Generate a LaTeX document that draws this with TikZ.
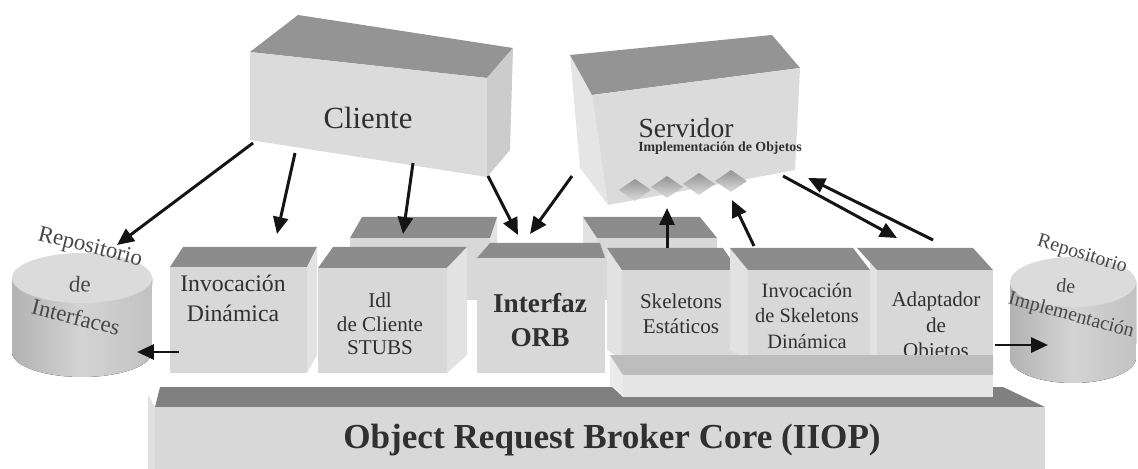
\documentclass[tikz,border=0pt]{standalone}
\usepackage{fontspec}
\setmainfont{Liberation Serif}
\usetikzlibrary{arrows.meta}
\definecolor{topgray}{RGB}{140,140,140}
\definecolor{frontgray}{RGB}{216,216,216}
\definecolor{sidegray}{RGB}{226,226,226}
\definecolor{inkgray}{RGB}{48,48,48}
\tikzset{
  topface/.style={fill=topgray},
  frontface/.style={fill=frontgray},
  sideface/.style={fill=sidegray},
  lbl/.style={text=inkgray, align=center, inner sep=0pt},
  replbl/.style={lbl, text=black!72},
  arr/.style={draw=black!92, line width=1.7pt, -{Triangle[length=0.34cm,width=0.3cm]}},
  cylbody/.style={left color=black!30, right color=black!24, middle color=black!17},
  cyltop/.style={fill=black!14},
  knob/.style={top color=black!42, bottom color=black!14},
}
\begin{document}
\begin{tikzpicture}[x=0.02cm,y=-0.02cm]
\useasboundingbox (0,0) rectangle (1138,469);

% ---- ORB core base slab ----
\fill[black!12] (148,395) -- (155,407) -- (155,469) -- (148,469) -- cycle;
\fill[fill=black!50] (160,387) -- (1003,387) -- (1045,407) -- (155,407) -- cycle;
\fill[frontgray] (155,407) -- (1045,407) -- (1045,469) -- (155,469) -- cycle;
\node[lbl, font=\bfseries\fontsize{20}{22}\selectfont] (core) at (612,440) {Object Request Broker Core (IIOP)};

% ---- back row boxes ----
\fill[frontgray] (350,238) -- (490,238) -- (490,300) -- (350,300) -- cycle;
\fill[sideface] (490,238) -- (497,217) -- (497,290) -- (490,300) -- cycle;
\fill[topface] (362,217) -- (497,217) -- (490,238) -- (350,238) -- cycle;

\fill[sideface] (583,217) -- (597,238) -- (597,300) -- (583,290) -- cycle;
\fill[frontgray] (597,238) -- (717,238) -- (717,300) -- (597,300) -- cycle;
\fill[topface] (583,217) -- (700,217) -- (717,238) -- (597,238) -- cycle;

% ---- client-side boxes ----
\fill[topface] (183,247) -- (317,247) -- (307,267) -- (170,267) -- cycle;
\fill[frontgray] (170,267) -- (307,267) -- (307,373) -- (170,373) -- cycle;
\fill[sideface] (307,267) -- (317,247) -- (317,355) -- (307,373) -- cycle;
\node[lbl, font=\fontsize{13.5}{17}\selectfont] (invdin) at (233,298) {Invocación\\Dinámica};

\fill[topface] (333,247) -- (467,247) -- (447,268) -- (318,268) -- cycle;
\fill[frontgray] (318,268) -- (447,268) -- (447,373) -- (318,373) -- cycle;
\fill[sideface] (447,268) -- (467,247) -- (467,355) -- (447,373) -- cycle;
\node[lbl, font=\fontsize{12}{13.4}\selectfont] (stubs) at (380,324) {Idl\\de Cliente\\STUBS};

\fill[topface] (490,243) -- (600,243) -- (605,258) -- (477,258) -- cycle;
\fill[frontgray] (477,258) -- (605,258) -- (605,373) -- (477,373) -- cycle;
\node[lbl, font=\bfseries\fontsize{15.5}{19}\selectfont] (orbif) at (540,320) {Interfaz\\ORB};

% ---- server-side boxes ----
\fill[sideface] (607,248) -- (622,270) -- (622,360) -- (607,350) -- cycle;
\fill[topface] (607,248) -- (723,248) -- (738,270) -- (622,270) -- cycle;
\fill[frontgray] (622,270) -- (738,270) -- (738,360) -- (622,360) -- cycle;
\node[lbl, font=\fontsize{12}{14.2}\selectfont] (skest) at (681,314) {Skeletons\\Estáticos};

\fill[sideface] (730,248) -- (748,270) -- (748,360) -- (730,350) -- cycle;
\fill[topface] (730,248) -- (853,248) -- (870,270) -- (748,270) -- cycle;
\fill[frontgray] (748,270) -- (870,270) -- (870,360) -- (748,360) -- cycle;

\fill[sideface] (857,248) -- (877,270) -- (877,393) -- (870,393) -- (870,262) -- cycle;
\fill[topface] (857,248) -- (973,248) -- (993,270) -- (877,270) -- cycle;
\fill[frontgray] (877,270) -- (993,270) -- (993,393) -- (877,393) -- cycle;
\node[lbl, font=\fontsize{11.6}{14.7}\selectfont] (skdin) at (807,316) {Invocación\\de Skeletons\\Dinámica};
\node[lbl, font=\fontsize{12}{14.5}\selectfont] (adapt) at (936,327) {Adaptador\\de\\Objetos};

% platform under the server-side boxes
\fill[white!92!black] (610,355) -- (623,375) -- (623,397) -- (610,385) -- cycle;
\fill[black!26] (610,355) -- (993,355) -- (993,375) -- (623,375) -- cycle;
\fill[black!10] (623,375) -- (993,375) -- (993,397) -- (623,397) -- cycle;

% ---- repositories ----
\fill[cylbody] (12,278) -- (12,352) arc[start angle=180,end angle=360,x radius=1.4cm,y radius=0.5cm] -- (152,278) -- cycle;
\fill[cyltop] (82,278) ellipse [x radius=1.4cm, y radius=0.5cm];
\node[replbl, font=\fontsize{13}{15}\selectfont, rotate=-14] (repi1) at (90,248) {Repositorio};
\node[replbl, font=\fontsize{13}{15}\selectfont, rotate=-4] (repi2) at (80,284) {de};
\node[replbl, font=\fontsize{13}{15}\selectfont, rotate=-14] (repi3) at (76,317) {Interfaces};

\fill[cylbody] (1010,282) -- (1010,358) arc[start angle=180,end angle=360,x radius=1.26cm,y radius=0.5cm] -- (1136,282) -- cycle;
\fill[cyltop] (1073,282) ellipse [x radius=1.26cm, y radius=0.5cm];
\node[replbl, font=\fontsize{11.3}{13}\selectfont, rotate=-17] (repm1) at (1082,255) {Repositorio};
\node[replbl, font=\fontsize{11.3}{13}\selectfont, rotate=-6] (repm2) at (1066,286) {de};
\node[replbl, font=\fontsize{11.3}{13}\selectfont, rotate=-15] (repm3) at (1071,316) {Implementación};

% ---- Cliente ----
\fill[black!42] (250,52) -- (298,15) -- (513,48) -- (487,78) -- cycle;
\fill[black!14] (250,52) -- (487,78) -- (487,177) -- (250,140) -- cycle;
\fill[black!20] (487,78) -- (513,48) -- (510,150) -- (487,177) -- cycle;
\node[lbl, font=\fontsize{17.5}{20}\selectfont] (cliente) at (368,118) {Cliente};

% ---- Servidor ----
\fill[black!10] (570,55) -- (592,95) -- (608,205) -- (580,168) -- cycle;
\fill[black!42] (570,55) -- (772,35) -- (800,68) -- (592,95) -- cycle;
\fill[black!14] (592,95) -- (800,68) -- (795,170) -- (608,205) -- cycle;
\node[lbl, font=\fontsize{15.7}{18}\selectfont] (servidor) at (686,128) {Servidor};
\node[lbl, font=\bfseries\fontsize{7.9}{9}\selectfont] (impl) at (720,148) {Implementación de Objetos};
\foreach \cx/\cy in {635/190, 667/187, 699/184, 731/181}
  \shade[knob] (\cx-16,\cy) -- (\cx,\cy-11) -- (\cx+16,\cy) -- (\cx,\cy+11) -- cycle;

% ---- connector end points ----
\coordinate (cliA) at (253,143);  \coordinate (repiIn) at (117,245);
\coordinate (cliB) at (295,153);  \coordinate (invdinIn) at (277,234);
\coordinate (cliC) at (413,163);  \coordinate (stubsIn) at (403,234);
\coordinate (cliD) at (488,176);  \coordinate (orbInA) at (518,235);
\coordinate (srvA) at (572,176);  \coordinate (orbInB) at (530,234);
\coordinate (skestOut) at (667,248); \coordinate (srvInA) at (667,208);
\coordinate (skdinOut) at (754,246); \coordinate (srvInB) at (732,200);
\coordinate (srvB) at (783,176);  \coordinate (adaptIn) at (897,238);
\coordinate (adaptOut) at (933,240); \coordinate (srvInC) at (808,178);
\coordinate (invdinOut) at (179,352); \coordinate (repiSide) at (137,352);
\coordinate (adaptSide) at (995,345); \coordinate (repmSide) at (1048,345);

\draw[arr] (cliA) -- (repiIn);
\draw[arr] (cliB) -- (invdinIn);
\draw[arr] (cliC) -- (stubsIn);
\draw[arr] (cliD) -- (orbInA);
\draw[arr] (srvA) -- (orbInB);
\draw[arr] (skestOut) -- (srvInA);
\draw[arr] (skdinOut) -- (srvInB);
\draw[arr] (srvB) -- (adaptIn);
\draw[arr] (adaptOut) -- (srvInC);
\draw[arr] (invdinOut) -- (repiSide);
\draw[arr] (adaptSide) -- (repmSide);
\end{tikzpicture}
\end{document}
